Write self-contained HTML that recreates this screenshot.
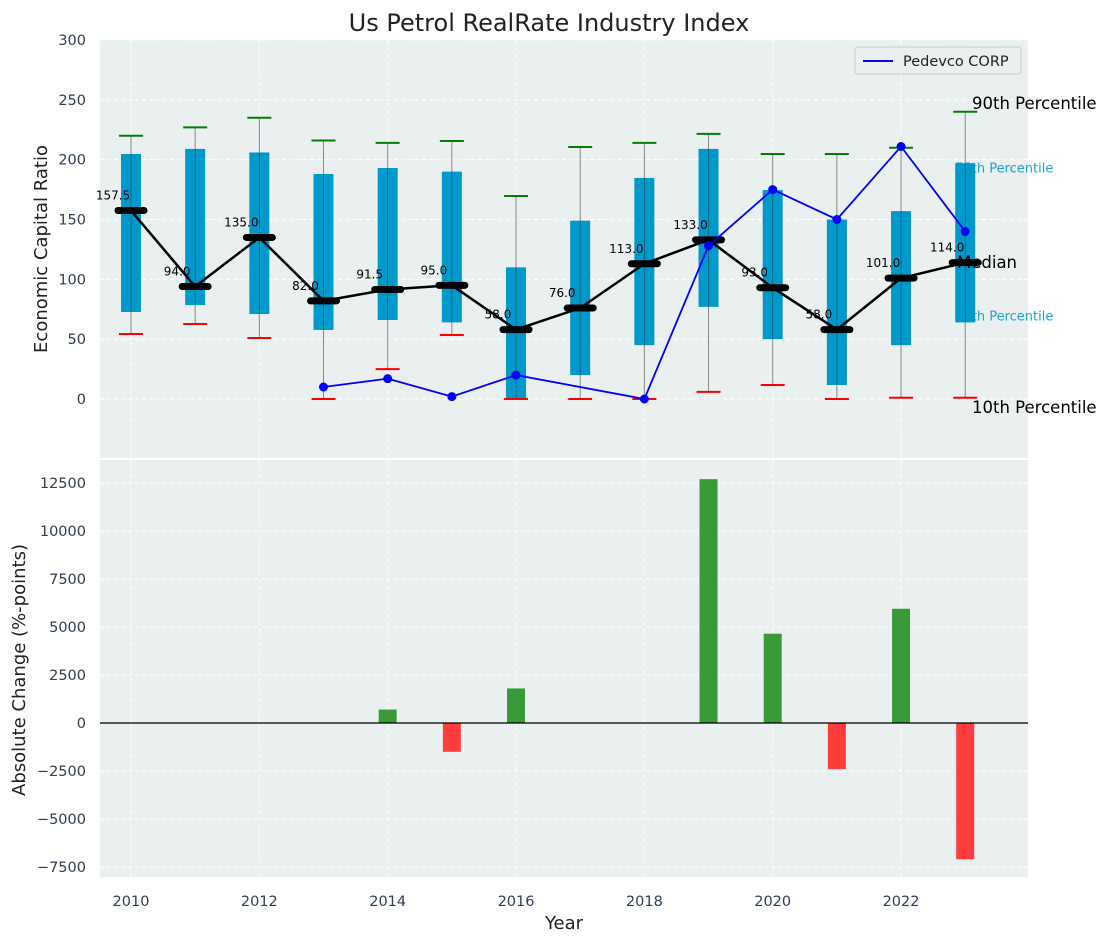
<!DOCTYPE html>
<html><head><meta charset="utf-8"><style>
body{margin:0;background:#fff;font-family:"Liberation Sans","DejaVu Sans",sans-serif}
svg text{font-family:"DejaVu Sans","Liberation Sans",sans-serif}
</style></head><body>
<svg id="c" width="1107" height="942" xmlns="http://www.w3.org/2000/svg"></svg>
<script>
const years=[2010,2011,2012,2013,2014,2015,2016,2017,2018,2019,2020,2021,2022,2023];
const q1=[72.7,78.5,71,57.7,66,64,0,20,45,77,50,11.7,45,64];
const q3=[204.7,209,206,188,193,190,110,149,184.7,209,174.6,150,157,197];
const lowW=[54.3,62.7,51,0,25,53.5,0,0,0,6,11.7,0,1,1];
const highW=[220,227,235,216,214,215.6,169.6,210.6,214,221.5,204.7,204.7,210,240];
const medians=[157.5,94,135,82,91.5,95,58,76,113,133,93,58,101,114];
const pedYears=[2013,2014,2015,2016,2018,2019,2020,2021,2022,2023];
const pedVals=[10,17,2,20,0,128,175,150,211,140];
const changeYears=[2014,2015,2016,2019,2020,2021,2022,2023];
const changeVals=[700,-1500,1800,12700,4650,-2400,5950,-7100];
const topTicks=[0,50,100,150,200,250,300];
const botTicks=[-7500,-5000,-2500,0,2500,5000,7500,10000,12500];
const xTicks=[2010,2012,2014,2016,2018,2020,2022];

const svg=document.getElementById('c');const NS='http://www.w3.org/2000/svg';
function el(t,a,txt){const e=document.createElementNS(NS,t);for(const k in a)e.setAttribute(k,a[k]);if(txt!==undefined)e.textContent=txt;svg.appendChild(e);return e;}
const L=100,R=1028,T1=40,B1=458,T2=460,B2=877;
const x=v=>131+(v-2010)*64.17;
const y1=v=>399-v*1.1967;
const y2=v=>723-v*0.0192;

let e;
e=el('rect',{x:L,y:T1,width:R-L,height:B1-T1,fill:'#eaeff0'});

e=el('rect',{x:L,y:T2,width:R-L,height:B2-T2,fill:'#eaeff0'});

topTicks.forEach(t=>{el('line',{x1:L,x2:R,y1:y1(t),y2:y1(t),stroke:'#fff','stroke-dasharray':'4,3'});
 e=el('text',{x:L-14,y:y1(t)+5,'text-anchor':'end','font-size':14.5,fill:'#2f3e50'},t);
 });
botTicks.forEach(t=>{el('line',{x1:L,x2:R,y1:y2(t),y2:y2(t),stroke:'#fff','stroke-dasharray':'4,3'});
 e=el('text',{x:L-14,y:y2(t)+5,'text-anchor':'end','font-size':14.5,fill:'#2f3e50'},t.toString().replace('-','\u2212'));
 });
xTicks.forEach(t=>{[[T1,B1],[T2,B2]].forEach(([a,b])=>el('line',{x1:x(t),x2:x(t),y1:a,y2:b,stroke:'#fff','stroke-dasharray':'4,3'}));
 e=el('text',{x:x(t),y:906,'text-anchor':'middle','font-size':14.5,fill:'#2f3e50'},t);
 });
const ly=years.length-1;
e=el('text',{x:x(years[ly])-10,y:y1(q3[ly])+9,'font-size':13,fill:'#1ba3d0'},'75th Percentile');

e=el('text',{x:x(years[ly])-10,y:y1(q1[ly])-2,'font-size':13,fill:'#1ba3d0'},'25th Percentile');

years.forEach((yr,i)=>{const cx=x(yr);
 el('line',{x1:cx,x2:cx,y1:y1(highW[i]),y2:y1(lowW[i]),stroke:'#888','stroke-width':1});
 e=el('rect',{x:cx-10,y:y1(q3[i]),width:20,height:y1(q1[i])-y1(q3[i]),fill:'#0099cc'});
 
 el('line',{x1:cx,x2:cx,y1:y1(q3[i]),y2:y1(q1[i]),stroke:'#333','stroke-width':0.8,opacity:0.6});
 el('line',{x1:cx-12,x2:cx+12,y1:y1(highW[i]),y2:y1(highW[i]),stroke:'green','stroke-width':2});
 el('line',{x1:cx-12,x2:cx+12,y1:y1(lowW[i]),y2:y1(lowW[i]),stroke:'red','stroke-width':2});
});
e=el('polyline',{points:years.map((yr,i)=>x(yr)+','+y1(medians[i])).join(' '),fill:'none',stroke:'#000','stroke-width':2.5});

years.forEach((yr,i)=>{el('line',{x1:x(yr)-13,x2:x(yr)+13,y1:y1(medians[i]),y2:y1(medians[i]),stroke:'#000','stroke-width':7,'stroke-linecap':'round'});
 e=el('text',{x:x(yr)-18,y:y1(medians[i])-11,'text-anchor':'middle','font-size':12,fill:'#000'},medians[i].toFixed(1));
 });
e=el('polyline',{points:pedYears.map((yr,i)=>x(yr)+','+y1(pedVals[i])).join(' '),fill:'none',stroke:'blue','stroke-width':1.8});

pedYears.forEach((yr,i)=>{e=el('circle',{cx:x(yr),cy:y1(pedVals[i]),r:4.5,fill:'blue'});
 });
e=el('text',{x:972,y:109,'font-size':16.5,fill:'#000'},'90th Percentile');
e=el('text',{x:957,y:268,'font-size':16.5,fill:'#000'},'Median');
e=el('text',{x:972,y:413,'font-size':16.5,fill:'#000'},'10th Percentile');
e=el('rect',{x:855,y:47,width:166,height:27,fill:'#eaeff0',stroke:'#ccc',rx:3});
el('line',{x1:863,x2:893,y1:61,y2:61,stroke:'blue','stroke-width':2});
e=el('text',{x:903,y:66,'font-size':14.5,fill:'#222'},'Pedevco CORP');
changeYears.forEach((yr,i)=>{const v=changeVals[i];const a=y2(Math.max(v,0)),b=y2(Math.min(v,0));
 e=el('rect',{x:x(yr)-9,y:a,width:18,height:b-a,fill:v>=0?'#3a9a3a':'#ff3d3d'});
 });
el('line',{x1:L,x2:R,y1:y2(0),y2:y2(0),stroke:'#000','stroke-width':1.2});
e=el('text',{x:549,y:31,'text-anchor':'middle','font-size':24,fill:'#222'},'Us Petrol RealRate Industry Index');
e=el('text',{x:47,y:249,'text-anchor':'middle','font-size':18,fill:'#222',transform:'rotate(-90 47 249)'},'Economic Capital Ratio');
e=el('text',{x:25,y:670,'text-anchor':'middle','font-size':18,fill:'#222',transform:'rotate(-90 25 670)'},'Absolute Change (%-points)');
e=el('text',{x:564,y:929,'text-anchor':'middle','font-size':18,fill:'#222'},'Year');
</script>
</body></html>
